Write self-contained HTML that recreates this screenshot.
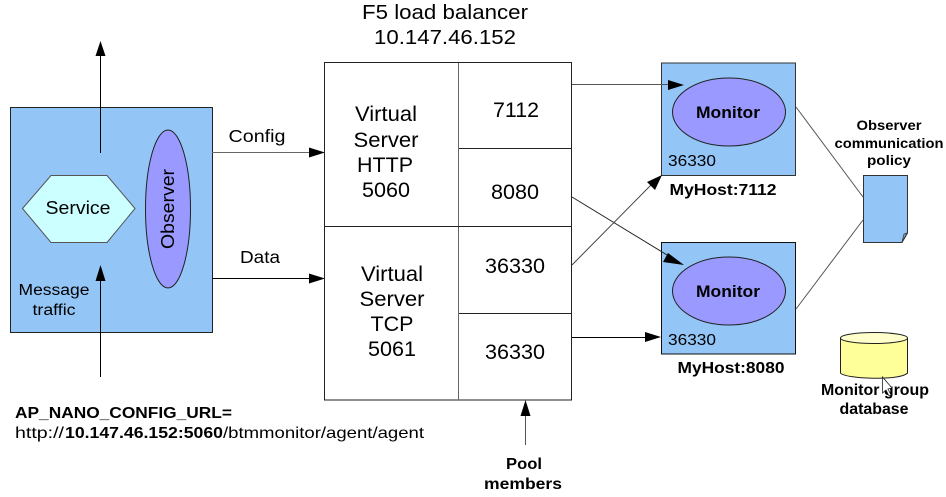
<!DOCTYPE html>
<html>
<head>
<meta charset="utf-8">
<style>
html,body{margin:0;padding:0;background:#fff;width:946px;height:497px;overflow:hidden}
svg{display:block}
text{font-family:"Liberation Sans",sans-serif;fill:#000}
.b{font-weight:bold}
</style>
</head>
<body>
<svg width="946" height="497" viewBox="0 0 946 497" xmlns="http://www.w3.org/2000/svg">
<rect width="946" height="497" fill="#fff"/>

<!-- Left box -->
<rect x="10.5" y="107.5" width="202" height="225" fill="#93c5f7" stroke="#222" stroke-width="1"/>
<polygon points="22.5,208.5 51,175.5 107,175.5 135,208.5 107,242.5 51,242.5" fill="#ccffff" stroke="#555" stroke-width="1"/>
<text x="78" y="214" font-size="18" text-anchor="middle" textLength="65" lengthAdjust="spacingAndGlyphs">Service</text>
<ellipse cx="168" cy="209" rx="22.5" ry="79" fill="#9999ff" stroke="#222" stroke-width="1"/>
<text transform="translate(174,209) rotate(-90)" font-size="18" text-anchor="middle" textLength="80" lengthAdjust="spacingAndGlyphs">Observer</text>
<text x="54" y="295" font-size="15.5" text-anchor="middle" textLength="71" lengthAdjust="spacingAndGlyphs">Message</text>
<text x="54" y="315" font-size="15.5" text-anchor="middle" textLength="43" lengthAdjust="spacingAndGlyphs">traffic</text>

<!-- Vertical arrows on left -->
<line x1="100.5" y1="153" x2="100.5" y2="50" stroke="#000"/>
<polygon points="100.5,41 95.5,56 105.5,56" fill="#000"/>
<line x1="100.5" y1="377" x2="100.5" y2="275" stroke="#000"/>
<polygon points="100.5,265 95.5,281 105.5,281" fill="#000"/>

<!-- Config / Data -->
<line x1="212" y1="152.5" x2="312" y2="152.5" stroke="#666"/>
<polygon points="325,152.5 309,147.5 309,157.5" fill="#000"/>
<line x1="212" y1="278.5" x2="312" y2="278.5" stroke="#000"/>
<polygon points="325,278.5 309,273.5 309,283.5" fill="#000"/>
<text x="257" y="142" font-size="17.5" text-anchor="middle" textLength="57" lengthAdjust="spacingAndGlyphs">Config</text>
<text x="260" y="263" font-size="17.5" text-anchor="middle" textLength="40" lengthAdjust="spacingAndGlyphs">Data</text>

<!-- Title -->
<text x="445" y="19" font-size="20" text-anchor="middle" textLength="166" lengthAdjust="spacingAndGlyphs">F5 load balancer</text>
<text x="445" y="44" font-size="20" text-anchor="middle" textLength="142" lengthAdjust="spacingAndGlyphs">10.147.46.152</text>

<!-- Main box -->
<rect x="324.5" y="62.5" width="247" height="337.5" fill="#fff" stroke="#222" stroke-width="1"/>
<line x1="458.5" y1="63" x2="458.5" y2="400" stroke="#666"/>
<line x1="325" y1="226.5" x2="572" y2="226.5" stroke="#222"/>
<line x1="459" y1="148.5" x2="572" y2="148.5" stroke="#222"/>
<line x1="459" y1="313.5" x2="572" y2="313.5" stroke="#222"/>

<g font-size="21" text-anchor="middle">
<text x="386" y="121" textLength="62" lengthAdjust="spacingAndGlyphs">Virtual</text>
<text x="386" y="147" textLength="65" lengthAdjust="spacingAndGlyphs">Server</text>
<text x="385" y="172" textLength="56" lengthAdjust="spacingAndGlyphs">HTTP</text>
<text x="386" y="197" textLength="48" lengthAdjust="spacingAndGlyphs">5060</text>
<text x="392" y="281" textLength="62" lengthAdjust="spacingAndGlyphs">Virtual</text>
<text x="392" y="306" textLength="65" lengthAdjust="spacingAndGlyphs">Server</text>
<text x="392" y="331" textLength="43" lengthAdjust="spacingAndGlyphs">TCP</text>
<text x="392" y="356" textLength="48" lengthAdjust="spacingAndGlyphs">5061</text>
<text x="516" y="117" textLength="46" lengthAdjust="spacingAndGlyphs">7112</text>
<text x="515" y="199" textLength="48" lengthAdjust="spacingAndGlyphs">8080</text>
<text x="515" y="273" textLength="60" lengthAdjust="spacingAndGlyphs">36330</text>
<text x="515" y="359" textLength="60" lengthAdjust="spacingAndGlyphs">36330</text>
</g>

<!-- Monitor boxes -->
<rect x="661.5" y="63" width="134" height="112.5" fill="#93c5f7" stroke="#333" stroke-width="1"/>
<ellipse cx="729" cy="112" rx="56.5" ry="34" fill="#9999ff" stroke="#222" stroke-width="1"/>
<text x="728" y="118" font-size="17" class="b" text-anchor="middle" textLength="64" lengthAdjust="spacingAndGlyphs">Monitor</text>
<text x="668" y="166" font-size="15.5" textLength="48" lengthAdjust="spacingAndGlyphs">36330</text>
<text x="723" y="195" font-size="16" class="b" text-anchor="middle" textLength="107" lengthAdjust="spacingAndGlyphs">MyHost:7112</text>

<rect x="661.5" y="242.5" width="134" height="111.5" fill="#93c5f7" stroke="#111" stroke-width="1"/>
<ellipse cx="729" cy="291" rx="56.5" ry="34" fill="#9999ff" stroke="#222" stroke-width="1"/>
<text x="728" y="297" font-size="17" class="b" text-anchor="middle" textLength="64" lengthAdjust="spacingAndGlyphs">Monitor</text>
<text x="668" y="345" font-size="15.5" textLength="48" lengthAdjust="spacingAndGlyphs">36330</text>
<text x="731" y="373" font-size="16" class="b" text-anchor="middle" textLength="107" lengthAdjust="spacingAndGlyphs">MyHost:8080</text>

<!-- Connectors to monitors -->
<line x1="572" y1="84.5" x2="672" y2="84.5" stroke="#555"/>
<polygon points="684,85 668,80 668,90" fill="#000"/>
<line x1="572" y1="197" x2="672" y2="258" stroke="#222"/>
<polygon points="684,265 668,253 663,262" fill="#000"/>
<line x1="572" y1="265" x2="652" y2="184" stroke="#444"/>
<polygon points="662,175 647,182 655,190" fill="#000"/>
<line x1="572" y1="337.5" x2="648" y2="337.5" stroke="#000"/>
<polygon points="661,337 645,332 645,342" fill="#000"/>

<!-- Doc -->
<polygon points="863.5,175.5 907.5,175.5 907.5,233 902,242.5 863.5,242.5" fill="#93c5f7" stroke="#333" stroke-width="1"/>
<polygon points="902,242 904,234 907,233" fill="#7aa6d0" stroke="#333" stroke-width=".7"/>
<line x1="796" y1="107" x2="863" y2="197" stroke="#555"/>
<line x1="796" y1="309" x2="863" y2="220" stroke="#555"/>
<g font-size="13.5" text-anchor="middle" font-weight="bold">
<text x="889" y="130" textLength="65" lengthAdjust="spacingAndGlyphs">Observer</text>
<text x="889" y="148" textLength="109" lengthAdjust="spacingAndGlyphs">communication</text>
<text x="889" y="165" textLength="44" lengthAdjust="spacingAndGlyphs">policy</text>
</g>

<!-- Cylinder -->
<path d="M840.5,338 V373 C845,379 900,381 907.5,373 V338 Z" fill="#ffff99" stroke="#222" stroke-width="1"/>
<ellipse cx="874" cy="338" rx="33.5" ry="5.5" fill="#ffffcc" stroke="#222" stroke-width="1"/>
<g font-size="15.5" font-weight="bold" text-anchor="middle">
<text x="875" y="395" textLength="108" lengthAdjust="spacingAndGlyphs">Monitor group</text>
<text x="874" y="414" textLength="69" lengthAdjust="spacingAndGlyphs">database</text>
</g>
<polygon points="882.5,377 882.5,393 886,390 889,396 891,395 888,389 892,388" fill="#fff" stroke="#222" stroke-width=".8"/>

<!-- Bottom-left text -->
<text x="15" y="418" font-size="16" font-weight="bold" textLength="217" lengthAdjust="spacingAndGlyphs">AP_NANO_CONFIG_URL=</text>
<text x="15" y="438" font-size="16" textLength="49" lengthAdjust="spacingAndGlyphs">http://</text>
<text x="65" y="438" font-size="16" font-weight="bold" textLength="158" lengthAdjust="spacingAndGlyphs">10.147.46.152:5060</text>
<text x="223" y="438" font-size="16" textLength="201" lengthAdjust="spacingAndGlyphs">/btmmonitor/agent/agent</text>

<!-- Pool members -->
<line x1="525.5" y1="445" x2="525.5" y2="410" stroke="#555"/>
<polygon points="525.5,400 520.5,416 530.5,416" fill="#000"/>
<text x="524" y="469" font-size="15.5" font-weight="bold" text-anchor="middle" textLength="36" lengthAdjust="spacingAndGlyphs">Pool</text>
<text x="523" y="489" font-size="15.5" font-weight="bold" text-anchor="middle" textLength="78" lengthAdjust="spacingAndGlyphs">members</text>
</svg>
</body>
</html>
